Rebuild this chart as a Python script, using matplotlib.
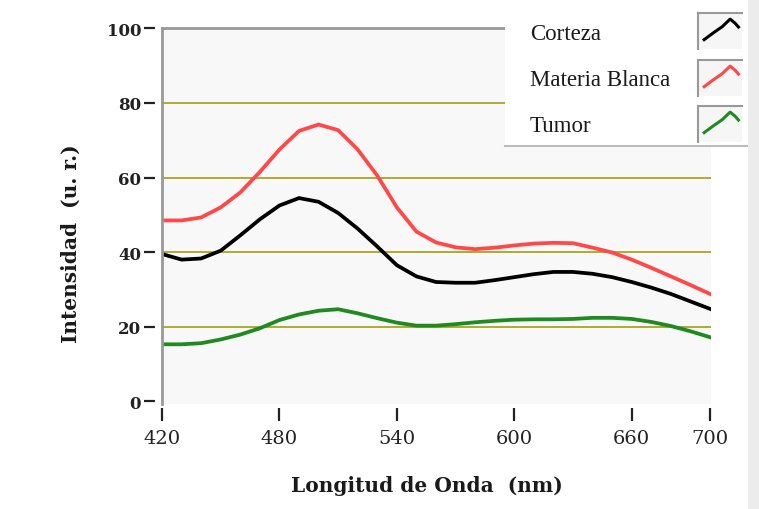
import numpy as np
import matplotlib
matplotlib.use('Agg')
import matplotlib.pyplot as plt
from matplotlib.patches import Rectangle

# Wavelength samples (nm)
wavelength = list(range(420, 701, 10))

# Intensities (u. r.)
corteza = [39.5, 38.0, 38.3, 40.4, 44.5, 48.8, 52.5, 54.5, 53.5, 50.5,
           46.3, 41.5, 36.5, 33.5, 32.0, 31.8, 31.8, 32.5, 33.3, 34.1,
           34.7, 34.7, 34.2, 33.3, 32.0, 30.5, 28.8, 26.8, 24.8]
materia_blanca = [48.5, 48.5, 49.3, 52.0, 56.0, 61.5, 67.5, 72.5, 74.2, 72.7,
                  67.5, 60.5, 52.0, 45.5, 42.6, 41.3, 40.8, 41.2, 41.8, 42.3,
                  42.5, 42.4, 41.2, 39.9, 38.0, 35.8, 33.5, 31.2, 28.8]
tumor = [15.3, 15.3, 15.6, 16.6, 17.9, 19.6, 21.8, 23.3, 24.3, 24.7,
         23.6, 22.3, 21.1, 20.3, 20.3, 20.7, 21.2, 21.6, 21.9, 22.0,
         22.0, 22.1, 22.4, 22.4, 22.1, 21.3, 20.2, 18.8, 17.2]

series_names = ['Corteza', 'Materia Blanca', 'Tumor']
series_colors = ['#000000', '#ff4848', '#1f8a1f']

x_ticks = [420, 480, 540, 600, 660, 700]
y_ticks = [0, 20, 40, 60, 80, 100]

# legend glyph shape (normalized, inside each icon box)
icon_x = [0.14, 0.35, 0.55, 0.73, 0.84, 0.92]
icon_y = [0.26, 0.45, 0.62, 0.83, 0.72, 0.61]

W, H = 759, 510
fig = plt.figure(figsize=(W / 100, H / 100), dpi=100)
fig.patch.set_facecolor('white')

ax = fig.add_axes([162 / W, 1 - 405 / H, 549 / W, (405 - 29.3) / H])
ax.set_facecolor('#f8f8f8')

for vals, color in zip([corteza, materia_blanca, tumor], series_colors):
    ax.plot(wavelength, vals, color=color, lw=2.7, solid_joinstyle='round', zorder=3)

ax.set_xlim(420, 700.5)
ax.set_ylim(-0.7, 100)
ax.set_xticks(x_ticks)
ax.set_yticks(y_ticks)

# olive grid lines
for yv in y_ticks[1:-1]:
    ax.axhline(yv, color='#aaa41e', lw=1.3, zorder=1)

# spines: draw visible gray frame, offset invisible ones to detach ticks
for s in ['right', 'bottom']:
    ax.spines[s].set_color('none')
ax.spines['left'].set_position(('outward', 5))
ax.spines['left'].set_color('none')
ax.spines['bottom'].set_position(('outward', 3))
ax.spines['top'].set_color('#999999')
ax.spines['top'].set_linewidth(2)
ax.axvline(420, color='#999999', lw=2, zorder=4, clip_on=False)

ax.tick_params(axis='y', length=8, width=1.6, color='#222222', pad=2,
               labelsize=12, labelcolor='#222222')
ax.tick_params(axis='x', length=9, width=1.6, color='#222222', pad=6,
               labelsize=14, labelcolor='#222222')
for lab in ax.get_yticklabels():
    lab.set_fontfamily('DejaVu Serif')
    lab.set_fontweight('bold')
for lab in ax.get_xticklabels():
    lab.set_fontfamily('DejaVu Serif')

ax.set_xlabel('Longitud de Onda  (nm)', fontsize=14.5, fontweight='bold',
              family='DejaVu Serif', color='#1a1a1a')
ax.set_ylabel('Intensidad  (u. r.)', fontsize=14.5, fontweight='bold',
              family='DejaVu Serif', color='#1a1a1a')
ax.xaxis.set_label_coords(0.483, -0.19)
ax.yaxis.set_label_coords(-0.148, 0.43)

# legend panel
leg = fig.add_axes([505 / W, 1 - 147 / H, (748 - 505) / W, 147 / H])
leg.set_facecolor('white')
leg.set_xlim(0, 1)
leg.set_ylim(0, 1)
leg.set_xticks([])
leg.set_yticks([])
for s in ['top', 'right', 'left']:
    leg.spines[s].set_visible(False)
leg.spines['bottom'].set_color('#bbbbbb')
leg.spines['bottom'].set_linewidth(1.5)

row_tops = [14, 61, 107]
for name, color, top in zip(series_names, series_colors, row_tops):
    yc = 1 - (top + 20) / 147
    leg.text((530 - 505) / (748 - 505), yc, name, fontsize=16.5,
             family='Liberation Serif', color='#1a1a1a', va='center', ha='left')
    ic = fig.add_axes([698 / W, 1 - (top + 36) / H, 44 / W, 36 / H])
    ic.set_facecolor('#f6f6f6')
    ic.set_xlim(0, 1)
    ic.set_ylim(0, 1)
    ic.set_xticks([])
    ic.set_yticks([])
    for s in ['right', 'bottom']:
        ic.spines[s].set_visible(False)
    for s in ['top', 'left']:
        ic.spines[s].set_color('#999999')
        ic.spines[s].set_linewidth(1.5)
    ic.plot(icon_x, icon_y, color=color, lw=2.2, solid_joinstyle='round')

# gray strip at the right edge
fig.patches.append(Rectangle((748 / W, 0), 1 - 748 / W, 1, transform=fig.transFigure,
                             facecolor='#ececec', edgecolor='none', zorder=0))

fig.savefig('out.png', dpi=100)
